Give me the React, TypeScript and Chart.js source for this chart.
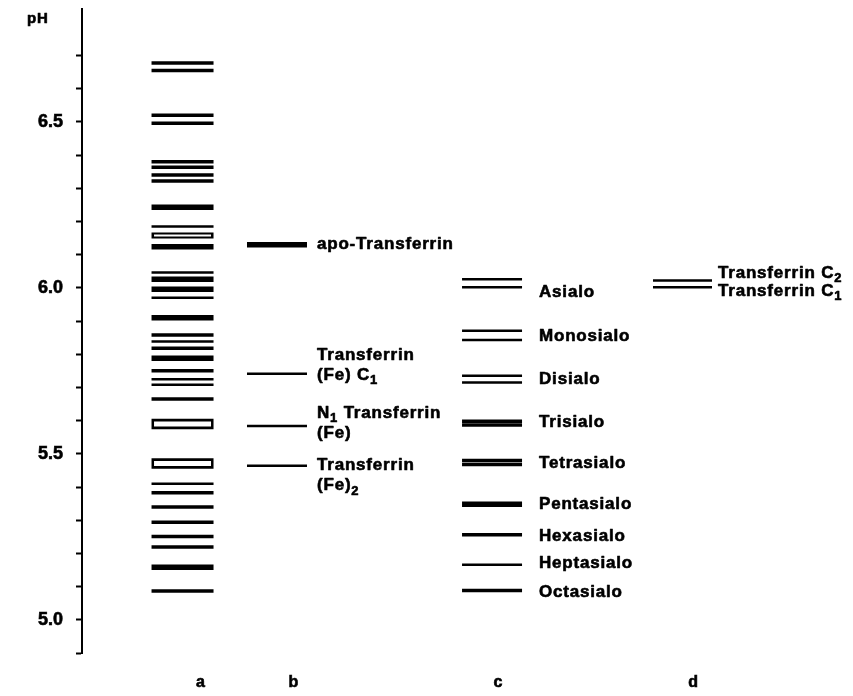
import React, { useEffect, useRef } from 'react';
import { Chart, registerables } from 'chart.js';

Chart.register(...registerables);

// ---------- data ----------
const Y_TICK_VALUES = [4.9, 5.0, 5.1, 5.2, 5.3, 5.4, 5.5, 5.6, 5.7, 5.8, 5.9, 6.0, 6.1, 6.2, 6.3, 6.4, 6.5, 6.6, 6.7];
const Y_TICK_LABELS = ['5.0', '5.5', '6.0', '6.5'];
const LANE_NAMES = ['a', 'b', 'c', 'd'];

// lane a: focused bands (pH) and density class (1 faint, 2 medium, 3 strong, 4 hollow narrow, 5 hollow wide)
const LANE_A_PH = [6.677, 6.655, 6.520, 6.496, 6.380, 6.363, 6.340, 6.322, 6.243, 6.185, 6.158, 6.124,
  6.046, 6.026, 5.996, 5.970, 5.910, 5.858, 5.838, 5.818, 5.788, 5.750, 5.725, 5.708, 5.665, 5.590,
  5.471, 5.410, 5.383, 5.340, 5.294, 5.251, 5.219, 5.158, 5.087];
const LANE_A_DENSITY = [2, 2, 2, 2, 2, 2, 2, 2, 3, 1, 4, 3,
  1, 3, 3, 1, 3, 2, 1, 2, 3, 2, 1, 1, 2, 5,
  5, 1, 2, 2, 2, 2, 2, 3, 2];

// lane b
const LANE_B_PH = [6.130, 5.741, 5.584, 5.464];
const LANE_B_DENSITY = [3, 1, 1, 1];
const LANE_B_LABELS = ['apo-Transferrin', 'Transferrin\n(Fe) C₁', 'N₁ Transferrin\n(Fe)', 'Transferrin\n(Fe)₂'];
const LANE_B_LABEL_PH = [6.130, 5.798, 5.623, 5.464];

// lane c: sialo isoforms (upper / lower line of each doublet)
const LANE_C_NAMES = ['Asialo', 'Monosialo', 'Disialo', 'Trisialo', 'Tetrasialo', 'Pentasialo', 'Hexasialo', 'Heptasialo', 'Octasialo'];
const LANE_C_UPPER_PH = [6.026, 5.871, 5.735, 5.598, 5.480, 5.348, 5.256, 5.166, 5.088];
const LANE_C_LOWER_PH: (number | null)[] = [6.002, 5.843, 5.715, 5.587, 5.468, null, null, null, null];
const LANE_C_DENSITY = [1, 1, 1, 2, 2, 3, 2, 1, 2];
const LANE_C_LABEL_PH = [5.986, 5.855, 5.725, 5.595, 5.472, 5.349, 5.253, 5.169, 5.082];

// lane d
const LANE_D_PH = [6.022, 6.002];
const LANE_D_DENSITY = [1, 1];
const LANE_D_LABELS = ['Transferrin C₂', 'Transferrin C₁'];
const LANE_D_LABEL_PH = [6.045, 5.991];

// ---------- layout / style ----------
const LANE_CENTER = [1.309, 2.539, 5.339, 7.819];
const X_LABEL_POS = [1.543, 2.754, 5.417, 7.956];
const LANE_HALF_PX = [31, 30, 30, 29.5];
const LABEL_GAP_PX = [0, 10, 17, 6];
const FONT = '"Liberation Sans", Arial, Helvetica, sans-serif';
const TEXT_SIZE = 17;
const LINE_STEP = 20;

const WIDTH_BY_DENSITY: Record<number, number> = { 1: 2.5, 2: 3.5, 3: 5.5, 4: 6, 5: 10.5 };
const HOLLOW_INNER: Record<number, number> = { 4: 2, 5: 5 };

const SUB: Record<string, string> = { '₀': '0', '₁': '1', '₂': '2', '₃': '3', '₄': '4', '₅': '5', '₆': '6', '₇': '7', '₈': '8', '₉': '9' };

function drawRich(ctx: CanvasRenderingContext2D, text: string, x: number, y: number, size: number) {
  let cx = x;
  let buf = '';
  const put = (t: string, px: number, py: number) => {
    ctx.fillText(t, px, py);
    ctx.strokeText(t, px, py);
  };
  const flush = () => {
    if (!buf) return;
    ctx.font = `bold ${size}px ${FONT}`;
    put(buf, cx, y);
    cx += ctx.measureText(buf).width;
    buf = '';
  };
  for (const ch of text) {
    if (SUB[ch]) {
      flush();
      const s = Math.round(size * 0.75);
      ctx.font = `bold ${s}px ${FONT}`;
      put(SUB[ch], cx, y + size * 0.32);
      cx += ctx.measureText(SUB[ch]).width;
    } else {
      buf += ch;
    }
  }
  flush();
}

function bandDataset(lane: number, phs: number[], dens: number[], order: number) {
  return {
    data: phs.map((p) => ({ x: LANE_CENTER[lane], y: p })),
    pointStyle: 'line' as const,
    pointRadius: phs.map(() => LANE_HALF_PX[lane]),
    pointHoverRadius: phs.map(() => LANE_HALF_PX[lane]),
    pointBorderWidth: dens.map((d) => WIDTH_BY_DENSITY[d]),
    pointHoverBorderWidth: dens.map((d) => WIDTH_BY_DENSITY[d]),
    pointBorderColor: '#000',
    pointBackgroundColor: 'rgba(0,0,0,0)',
    clip: false,
    order,
  };
}

const labelPlugin = {
  id: 'gelLabels',
  afterDatasetsDraw(chart: any) {
    const { ctx, scales, chartArea } = chart;
    const x = scales.x;
    const y = scales.y;
    ctx.save();
    ctx.fillStyle = '#000';
    ctx.strokeStyle = '#000';
    ctx.lineWidth = 0.6;
    ctx.lineJoin = 'round';
    ctx.textBaseline = 'middle';
    ctx.textAlign = 'left';
    (ctx as any).letterSpacing = '0.8px';

    drawRich(ctx, 'pH', chartArea.left - 55, y.getPixelForValue(6.81), 15);

    const labelX = (lane: number) => x.getPixelForValue(LANE_CENTER[lane]) + LANE_HALF_PX[lane] + LABEL_GAP_PX[lane];

    LANE_B_LABELS.forEach((t, i) => {
      t.split('\n').forEach((line, j) => {
        drawRich(ctx, line, labelX(1), y.getPixelForValue(LANE_B_LABEL_PH[i]) + j * LINE_STEP, TEXT_SIZE);
      });
    });
    LANE_C_NAMES.forEach((t, i) => {
      drawRich(ctx, t, labelX(2), y.getPixelForValue(LANE_C_LABEL_PH[i]), TEXT_SIZE);
    });
    LANE_D_LABELS.forEach((t, i) => {
      drawRich(ctx, t, labelX(3), y.getPixelForValue(LANE_D_LABEL_PH[i]), TEXT_SIZE);
    });
    ctx.restore();
  },
};

export default function App() {
  const ref = useRef<HTMLCanvasElement | null>(null);

  useEffect(() => {
    document.body.style.margin = '0';
    document.body.style.background = '#fff';
    const canvas = ref.current;
    if (!canvas) return;

    const hollowIdx = LANE_A_DENSITY.map((d, i) => (HOLLOW_INNER[d] ? i : -1)).filter((i) => i >= 0);
    const cLowerPh: number[] = [];
    const cLowerDens: number[] = [];
    LANE_C_LOWER_PH.forEach((p, i) => {
      if (p !== null) {
        cLowerPh.push(p);
        cLowerDens.push(LANE_C_DENSITY[i]);
      }
    });

    const hollowInner = {
      data: hollowIdx.map((i) => ({ x: LANE_CENTER[0], y: LANE_A_PH[i] })),
      pointStyle: 'line' as const,
      pointRadius: hollowIdx.map(() => LANE_HALF_PX[0] - 2.5),
      pointHoverRadius: hollowIdx.map(() => LANE_HALF_PX[0] - 2.5),
      pointBorderWidth: hollowIdx.map((i) => HOLLOW_INNER[LANE_A_DENSITY[i]]),
      pointHoverBorderWidth: hollowIdx.map((i) => HOLLOW_INNER[LANE_A_DENSITY[i]]),
      pointBorderColor: '#fff',
      pointBackgroundColor: 'rgba(0,0,0,0)',
      clip: false,
      order: 0,
    };

    const chart = new Chart(canvas, {
      type: 'scatter',
      data: {
        datasets: [
          hollowInner,
          bandDataset(0, LANE_A_PH, LANE_A_DENSITY, 1),
          bandDataset(1, LANE_B_PH, LANE_B_DENSITY, 1),
          bandDataset(2, LANE_C_UPPER_PH, LANE_C_DENSITY, 1),
          bandDataset(2, cLowerPh, cLowerDens, 1),
          bandDataset(3, LANE_D_PH, LANE_D_DENSITY, 1),
        ] as any,
      },
      options: {
        responsive: false,
        animation: false,
        events: [],
        layout: { autoPadding: false, padding: { top: 9, right: 3, left: 0, bottom: 0 } },
        plugins: {
          legend: { display: false },
          tooltip: { enabled: false },
        },
        scales: {
          x: {
            type: 'linear',
            min: 0,
            max: 10,
            grid: { display: false },
            border: { display: false },
            afterFit: (s: any) => { s.height = 43; s.paddingLeft = 0; s.paddingRight = 0; },
            afterBuildTicks: (s: any) => { s.ticks = X_LABEL_POS.map((v) => ({ value: v })); },
            ticks: {
              autoSkip: false,
              maxRotation: 0,
              padding: 12,
              color: '#000',
              textStrokeColor: '#000',
              textStrokeWidth: 0.6,
              font: { family: FONT, size: 16, weight: 'bold' },
              callback: (v: any) => {
                const i = X_LABEL_POS.findIndex((p) => Math.abs(p - Number(v)) < 1e-6);
                return i >= 0 ? LANE_NAMES[i] : '';
              },
            },
          },
          y: {
            type: 'linear',
            min: 4.9,
            max: 6.84,
            grid: {
              display: true,
              drawOnChartArea: false,
              drawTicks: true,
              tickLength: 6,
              tickWidth: 2,
              tickColor: '#000',
              color: '#000',
            },
            border: { display: true, color: '#000', width: 2 },
            afterFit: (s: any) => { s.width = 82; s.paddingTop = 0; s.paddingBottom = 0; },
            afterBuildTicks: (s: any) => { s.ticks = Y_TICK_VALUES.map((v) => ({ value: v })); },
            ticks: {
              autoSkip: false,
              padding: 13,
              color: '#000',
              textStrokeColor: '#000',
              textStrokeWidth: 0.6,
              font: { family: FONT, size: 18, weight: 'bold' },
              callback: (v: any) => {
                const s = Number(v).toFixed(1);
                return Y_TICK_LABELS.includes(s) ? s : '';
              },
            },
          },
        },
      },
      plugins: [labelPlugin],
    });

    return () => chart.destroy();
  }, []);

  return (
    <div style={{ width: 853, height: 696, background: '#fff' }}>
      <canvas ref={ref} width={853} height={696} style={{ display: 'block' }} />
    </div>
  );
}
